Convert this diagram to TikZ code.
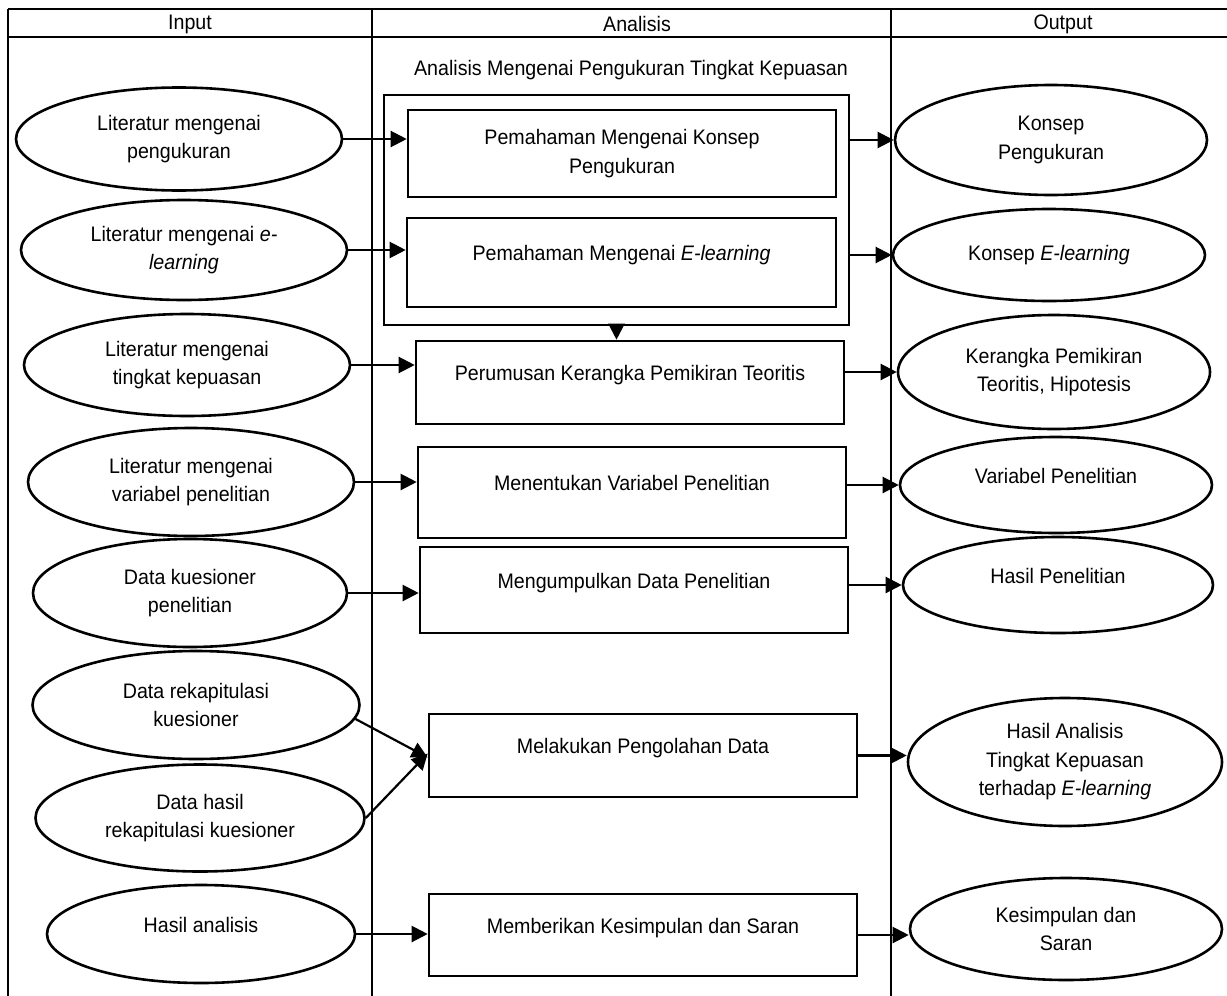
\documentclass[tikz,border=0pt]{standalone}
\usepackage{fontspec}
\setmainfont[FakeStretch=0.935]{Liberation Sans}
\usepackage{tikz}
\usetikzlibrary{shapes.geometric,arrows.meta}
\tikzstyle{source} = [ellipse, draw=black, line width=2.6pt, inner sep=0pt, minimum width=326pt, minimum height=104pt, align=center]
\tikzstyle{process} = [rectangle, draw=black, line width=2.6pt, inner sep=0pt, minimum width=428pt, minimum height=85pt, align=center]
\tikzstyle{oneline} = [text height=15pt, text depth=19pt]
\tikzstyle{arrow} = [line width=2.2pt,-{Triangle[length=16pt,width=16pt]}]
\tikzstyle{grid} = [line width=2.2pt]

\begin{document}
\begin{tikzpicture}[x=1pt,y=-1pt,font=\fontsize{21}{28.5}\selectfont]
\useasboundingbox (0,0) rectangle (1227,996);
\draw [grid] (8,9) -- (1227,9);
\draw [grid] (8,37) -- (1227,37);
\draw [grid] (8,9) -- (8,996);
\draw [grid] (372,9) -- (372,996);
\draw [grid] (891,9) -- (891,996);
\node (hinput) at (190,24) {Input};
\node (hanalisis) at (637,24) {Analisis};
\node (houtput) at (1063,24) {Output};

\node (in1) [source, minimum height=103pt] at (179,139) {Literatur mengenai\\pengukuran};
\node (in2) [source, minimum height=100pt] at (184,250) {Literatur mengenai \textit{e-}\\\textit{learning}};
\node (in3) [source, minimum height=102pt] at (187,365) {Literatur mengenai\\tingkat kepuasan};
\node (in4) [source, minimum height=108pt] at (191,482) {Literatur mengenai\\variabel penelitian};
\node (in5) [source, minimum width=314pt, minimum height=108pt] at (190,593) {Data kuesioner\\penelitian};
\node (in6) [source, minimum width=327pt, minimum height=108pt] at (196,705) {Data rekapitulasi\\kuesioner};
\node (in7) [source, minimum width=329pt, minimum height=107pt] at (200,818) {Data hasil\\rekapitulasi kuesioner};
\node (in8) [source, oneline, minimum width=308pt, minimum height=98pt] at (201,934) {Hasil analisis};

\node (judul) at (631,70) {Analisis Mengenai Pengukuran Tingkat Kepuasan};
\node (grp) [process, minimum width=465pt, minimum height=230pt] at (616.5,210) {};
\node (box1) [process, minimum height=87pt] at (622,153.5) {Pemahaman Mengenai Konsep\\Pengukuran};
\node (box2) [process, oneline, minimum width=429pt, minimum height=89pt] at (621.5,262.5) {Pemahaman Mengenai \textit{E-learning}};
\node (box3) [process, oneline, minimum height=83pt] at (630,382.5) {Perumusan Kerangka Pemikiran Teoritis};
\node (box4) [process, oneline, minimum height=91pt] at (632,492.5) {Menentukan Variabel Penelitian};
\node (box5) [process, oneline, minimum height=86pt] at (634,590) {Mengumpulkan Data Penelitian};
\node (box6) [process, oneline, minimum height=83pt] at (643,755.5) {Melakukan Pengolahan Data};
\node (box7) [process, oneline, minimum height=82pt] at (643,935) {Memberikan Kesimpulan dan Saran};

\node (out1) [source, minimum width=312pt, minimum height=110pt] at (1051,140) {Konsep\\Pengukuran};
\node (out2) [source, minimum width=312pt, minimum height=92pt] at (1049,255) {Konsep \textit{E-learning}};
\node (out3) [source, minimum width=312pt, minimum height=114pt] at (1054,372) {Kerangka Pemikiran\\Teoritis, Hipotesis};
\node (out4) [source, oneline, minimum width=312pt, minimum height=96pt] at (1056,485) {Variabel Penelitian};
\node (out5) [source, oneline, minimum width=310pt, minimum height=96pt] at (1058,585) {Hasil Penelitian};
\node (out6) [source, minimum width=314pt, minimum height=128pt] at (1065,762) {Hasil Analisis\\Tingkat Kepuasan\\terhadap \textit{E-learning}};
\node (out7) [source, minimum width=312pt, minimum height=102pt] at (1066,929) {Kesimpulan dan\\Saran};

\draw [arrow] (in1.east) -- (box1.west |- in1.east);
\draw [arrow] (in2.east) -- (box2.west |- in2.east);
\draw [arrow] (in3.east) -- (box3.west |- in3.east);
\draw [arrow] (in4.east) -- (box4.west |- in4.east);
\draw [arrow] (in5.east) -- (box5.west |- in5.east);
\draw [arrow] (in6.-5) -- ([yshift=-2pt]box6.west);
\draw [arrow] (in7.east) -- ([yshift=2pt]box6.west);
\draw [arrow] (in8.east) -- (box7.west |- in8.east);

\draw [arrow] (grp.south) -- (grp.south |- box3.north);

\draw [arrow] (grp.east |- out1.west) -- (out1.west);
\draw [arrow] (grp.east |- out2.west) -- (out2.west);
\draw [arrow] (box3.east |- out3.west) -- (out3.west);
\draw [arrow] (box4.east |- out4.west) -- (out4.west);
\draw [arrow] (box5.east |- out5.west) -- (out5.west);
\draw [arrow] (box6.east) -- (box6.east -| out6.west);
\draw [arrow] (box7.east) -- (box7.east -| out7.west);
\end{tikzpicture}
\end{document}
